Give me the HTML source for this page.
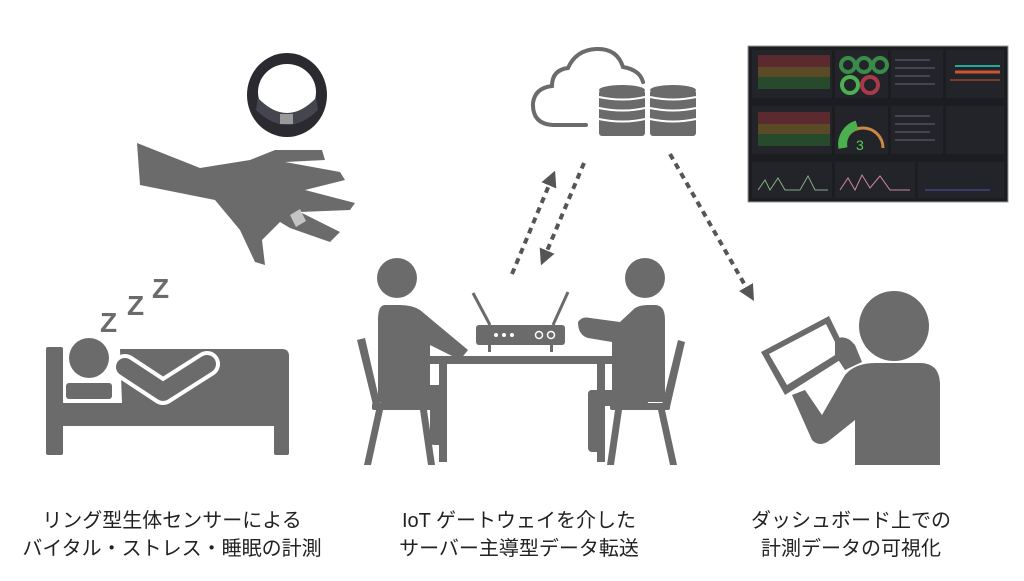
<!DOCTYPE html>
<html><head><meta charset="utf-8"><style>
html,body{margin:0;padding:0;background:#fff;}
body{width:1024px;height:576px;overflow:hidden;}
svg text{font-family:"Liberation Sans","Noto Sans CJK JP",sans-serif;}
</style></head><body>
<svg width="1024" height="576" viewBox="0 0 1024 576" xmlns="http://www.w3.org/2000/svg">
<defs>
<marker id="ah" markerWidth="16" markerHeight="16" refX="8" refY="8" orient="auto" markerUnits="userSpaceOnUse" viewBox="0 0 16 16">
<path d="M0,0 L16,8 L0,16 Z" fill="#555"/></marker>
</defs>
<g fill="#6b6b6b" stroke="none">
<!-- ring -->
<ellipse cx="287" cy="95" rx="40" ry="42" fill="#2a2a30"/>
<ellipse cx="287" cy="92" rx="29" ry="28" fill="#fff"/>
<path d="M258,98 Q287,128 316,98 L318,110 Q287,140 256,110Z" fill="#45454f"/>
<rect x="280" y="114" width="13" height="10" fill="#999"/>
<!-- hand -->
<path d="M137,143 L140,185 L215,200 L240,230 L255,262 L265,265 L262,240 L280,222 L290,228 L330,242 L340,232 L300,212 L350,210 L355,203 L305,190 L345,180 L340,172 L285,162 L325,160 L322,150 L275,150 L250,160 L200,168 Z"/>
<path d="M290,215 l10,-6 l6,12 l-10,6Z" fill="#fff" opacity=".6"/>
<!-- ZZZ -->
<text x="100" y="332" font-size="28" font-weight="bold" fill="#6b6b6b" style="font-family:'Liberation Sans',sans-serif">Z</text>
<text x="127" y="315" font-size="28" font-weight="bold" fill="#6b6b6b" style="font-family:'Liberation Sans',sans-serif">Z</text>
<text x="152" y="298" font-size="28" font-weight="bold" fill="#6b6b6b" style="font-family:'Liberation Sans',sans-serif">Z</text>
<!-- bed -->
<rect x="46" y="347" width="17" height="108" rx="2"/>
<path d="M120,349 L282,349 Q289,349 289,356 L289,426 L62,426 L62,403 L122,403 Z"/>
<rect x="274" y="420" width="15" height="35" rx="2"/>
<circle cx="89" cy="358" r="20"/>
<rect x="66" y="383" width="46" height="16" rx="3"/>
<polyline points="125,367 163,392 207,364" fill="none" stroke="#fff" stroke-width="26" stroke-linecap="round" stroke-linejoin="round"/>
<polyline points="125,367 163,392 207,364" fill="none" stroke="#6b6b6b" stroke-width="18" stroke-linecap="round" stroke-linejoin="round"/>
<!-- cloud -->
<path d="M586,125 L553,125 Q532,124 533,103 Q535,88 552,86 Q552,70 568,68 Q576,50 596,49 Q617,48 623,67 Q640,70 643,82" fill="none" stroke="#6b6b6b" stroke-width="4" stroke-linecap="round"/>
<!-- databases -->
<g>
<ellipse cx="622" cy="90" rx="23" ry="5"/><rect x="599" y="90" width="46" height="46" rx="3"/>
<ellipse cx="673" cy="90" rx="23" ry="5"/><rect x="650" y="90" width="46" height="46" rx="3"/>
<g stroke="#fff" stroke-width="2" fill="none">
<path d="M599,97 Q622,102 645,97 M599,108 Q622,113 645,108 M599,119 Q622,124 645,119"/>
<path d="M650,97 Q673,102 696,97 M650,108 Q673,113 696,108 M650,119 Q673,124 696,119"/>
</g></g>
<!-- arrows -->
<g stroke="#555" stroke-width="4" stroke-dasharray="6,5" fill="none">
<line x1="512" y1="274" x2="552" y2="178" marker-end="url(#ah)"/>
<line x1="584" y1="163" x2="544" y2="258" marker-end="url(#ah)"/>
<line x1="670" y1="154" x2="750" y2="294" marker-end="url(#ah)"/>
</g>
<!-- dashboard -->
<rect x="748" y="46" width="260" height="156" fill="#1b1d21" stroke="#999" stroke-width="1"/>
<g fill="#222429"><rect x="752" y="50" width="80" height="48"/><rect x="835" y="50" width="53" height="48"/><rect x="891" y="50" width="52" height="48"/><rect x="946" y="50" width="58" height="48"/>
<rect x="752" y="106" width="80" height="48"/><rect x="835" y="106" width="53" height="48"/><rect x="891" y="106" width="52" height="48"/><rect x="946" y="106" width="58" height="48"/>
<rect x="752" y="162" width="80" height="36"/><rect x="835" y="162" width="80" height="36"/><rect x="918" y="162" width="86" height="36"/></g>
<rect x="758" y="55" width="72" height="12" fill="#5a2a2f"/><rect x="758" y="67" width="72" height="10" fill="#5a4a25"/><rect x="758" y="77" width="72" height="12" fill="#284a2c"/>
<rect x="758" y="112" width="72" height="12" fill="#5a2a2f"/><rect x="758" y="124" width="72" height="10" fill="#5a4a25"/><rect x="758" y="134" width="72" height="12" fill="#284a2c"/>
<g fill="none" stroke-width="4"><circle cx="848" cy="65" r="7" stroke="#3a8a4a"/><circle cx="864" cy="65" r="7" stroke="#3a8a4a"/><circle cx="880" cy="65" r="7" stroke="#3a8a4a"/><circle cx="850" cy="85" r="8" stroke="#4caf50"/><circle cx="870" cy="85" r="8" stroke="#aa3a4a"/>
<path d="M843,148 A20,20 0 1 1 883,148" stroke="#c84" stroke-width="3"/><path d="M843,148 A20,20 0 0 1 857,125" stroke="#4caf50" stroke-width="9"/></g>
<text x="856" y="150" font-size="14" fill="#5c5">3</text>
<g stroke="#667" stroke-width="1"><line x1="895" y1="60" x2="930" y2="60"/><line x1="895" y1="68" x2="935" y2="68"/><line x1="895" y1="76" x2="930" y2="76"/><line x1="895" y1="84" x2="935" y2="84"/><line x1="895" y1="116" x2="930" y2="116"/><line x1="895" y1="124" x2="935" y2="124"/><line x1="895" y1="132" x2="930" y2="132"/><line x1="895" y1="140" x2="935" y2="140"/></g>
<line x1="955" y1="66" x2="1000" y2="66" stroke="#2a9" stroke-width="2"/><line x1="955" y1="72" x2="1000" y2="72" stroke="#c53" stroke-width="3"/><line x1="950" y1="80" x2="1000" y2="80" stroke="#c53" stroke-width="1"/>
<polyline points="758,190 765,180 770,190 778,178 785,190 800,190 808,176 815,190 828,190" fill="none" stroke="#8a8" stroke-width="1"/>
<polyline points="840,190 848,178 855,190 862,175 870,188 880,176 890,190 910,190" fill="none" stroke="#c89" stroke-width="1"/>
<line x1="925" y1="190" x2="990" y2="190" stroke="#55a" stroke-width="1"/>
<!-- middle scene -->
<circle cx="397" cy="278" r="20"/>
<path d="M385,305 Q378,305 378,320 L378,395 L430,395 L430,345 L460,360 L468,350 L420,310 Q412,305 400,305Z"/>
<rect x="378" y="385" width="60" height="18" rx="4"/>
<rect x="430" y="385" width="14" height="60" rx="4"/>
<path d="M357,340 l8,-2 l15,65 l-7,2Z"/>
<rect x="372" y="403" width="60" height="7" rx="2"/>
<path d="M376,410 l7,0 l-12,55 l-7,0Z M420,410 l7,0 l8,55 l-7,0Z"/>
<rect x="430" y="356" width="182" height="8"/>
<rect x="439" y="364" width="8" height="98"/><rect x="597" y="364" width="8" height="98"/>
<rect x="476" y="325" width="89" height="20" rx="3"/>
<rect x="488" y="345" width="3" height="7"/><rect x="550" y="345" width="3" height="7"/>
<path d="M473,293 L490,325" stroke="#6b6b6b" stroke-width="3"/><path d="M568,292 L553,325" stroke="#6b6b6b" stroke-width="3"/>
<g fill="#fff"><circle cx="496" cy="335" r="2"/><circle cx="504" cy="335" r="2"/><circle cx="512" cy="335" r="2"/></g>
<g fill="none" stroke="#fff" stroke-width="1.5"><circle cx="539" cy="335" r="3.5"/><circle cx="551" cy="335" r="3.5"/></g>
<circle cx="645" cy="278" r="20"/>
<path d="M655,305 Q665,305 665,320 L665,402 L612,402 L612,342 L588,338 Q578,335 578,322 Q582,316 590,318 L620,322 L635,308 Q640,305 648,305Z"/>
<rect x="588" y="390" width="60" height="16" rx="4"/>
<rect x="588" y="390" width="14" height="62" rx="4"/>
<path d="M678,340 l7,2 l-15,65 l-8,-2Z"/>
<rect x="610" y="403" width="60" height="7" rx="2"/>
<path d="M615,410 l7,0 l-8,55 l-7,0Z M658,410 l7,0 l12,55 l-7,0Z"/>
<!-- right person -->
<circle cx="894" cy="326" r="35"/>
<path d="M875,363 L920,363 Q940,363 940,385 L940,465 L855,465 L855,420 L830,440 Q820,448 812,440 L792,395 L805,390 L822,415 L845,375 Q855,363 875,363Z"/>
<path d="M761,352 L829,316 L848,355 L785,395 Z" fill="#6b6b6b"/>
<path d="M769,354 L826,324 L840,352 L787,385 Z" fill="#fff"/>
<path d="M835,340 Q845,333 855,345 L862,362 L845,370 L835,355Z"/>
</g>
<!-- labels -->
<g font-size="20" fill="#222" text-anchor="middle">
<text x="172" y="527">リング型生体センサーによる</text>
<text x="172" y="555">バイタル・ストレス・睡眠の計測</text>
<text x="519" y="527">IoT ゲートウェイを介した</text>
<text x="519" y="555">サーバー主導型データ転送</text>
<text x="851" y="527">ダッシュボード上での</text>
<text x="851" y="555">計測データの可視化</text>
</g>
</svg>
</body></html>
